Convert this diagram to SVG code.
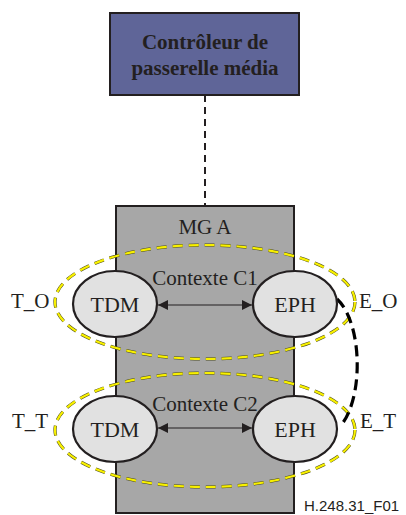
<svg xmlns="http://www.w3.org/2000/svg" width="406" height="515" viewBox="0 0 406 515">
<style>
.serif{font-family:"Liberation Serif","Times New Roman",serif;fill:#231f20}
.lbl{font-size:21px}
.ctx{font-size:21px;text-anchor:middle}
.tn{font-size:22px;text-anchor:middle}
.term{fill:#e1e1e1;stroke:#231f20;stroke-width:2.2}
.ydark{fill:none;stroke:#4a4a20;stroke-width:3.2;stroke-dasharray:10,6}
.yel{fill:none;stroke:#f8f000;stroke-width:2.2;stroke-dasharray:10,6}
.arr{stroke:#231f20;stroke-width:1.2;marker-start:url(#ah);marker-end:url(#ah)}
</style>
<defs>
<marker id="ah" viewBox="0 0 10 10" refX="10" refY="5" markerWidth="10" markerHeight="10" markerUnits="userSpaceOnUse" orient="auto-start-reverse">
<path d="M0,0 L10,5 L0,10 z" fill="#231f20"/>
</marker>
</defs>
<rect width="406" height="515" fill="#ffffff"/>
<g id="connectors">
<line x1="205" y1="95" x2="205" y2="206" stroke="#231f20" stroke-width="2" stroke-dasharray="7,5"/>
</g>
<g id="mgc">
<rect x="110" y="13" width="189" height="82" fill="#5f6598" stroke="#231f20" stroke-width="2"/>
<text class="serif" x="205" y="49" font-size="21" font-weight="bold" text-anchor="middle">Contrôleur de</text>
<text class="serif" x="205" y="75" font-size="21" font-weight="bold" text-anchor="middle">passerelle média</text>
</g>
<g id="mga">
<rect x="116" y="206" width="178" height="307" fill="#a7a7a7" stroke="#231f20" stroke-width="2"/>
<text class="serif" x="205" y="234" font-size="21" text-anchor="middle">MG A</text>
</g>
<g id="context-c1">
<ellipse class="ydark" cx="205" cy="302" rx="150" ry="57"/>
<ellipse class="yel" cx="205" cy="302" rx="150" ry="57"/>
<text class="serif ctx" x="205" y="285">Contexte C1</text>
</g>
<g id="context-c2">
<ellipse class="ydark" cx="205" cy="430" rx="150" ry="57"/>
<ellipse class="yel" cx="205" cy="430" rx="150" ry="57"/>
<text class="serif ctx" x="205" y="411">Contexte C2</text>
</g>
<g id="links">
<line class="arr" x1="158" y1="305" x2="252" y2="305"/>
<line class="arr" x1="158" y1="428" x2="252" y2="428"/>
<path d="M337,299 C362,322 364,395 342,424" fill="none" stroke="#000" stroke-width="3.2" stroke-dasharray="11,6"/>
</g>
<g id="tdm1">
<ellipse class="term" cx="115" cy="304" rx="42" ry="33"/>
<text class="serif tn" x="115" y="312">TDM</text>
</g>
<g id="eph1">
<ellipse class="term" cx="295" cy="304" rx="42" ry="33"/>
<text class="serif tn" x="295" y="312">EPH</text>
</g>
<g id="tdm2">
<ellipse class="term" cx="115" cy="429" rx="42" ry="33"/>
<text class="serif tn" x="115" y="437">TDM</text>
</g>
<g id="eph2">
<ellipse class="term" cx="295" cy="429" rx="42" ry="33"/>
<text class="serif tn" x="295" y="437">EPH</text>
</g>
<g id="labels">
<text class="serif lbl" x="11" y="308">T_O</text>
<text class="serif lbl" x="359" y="308">E_O</text>
<text class="serif lbl" x="12" y="428">T_T</text>
<text class="serif lbl" x="360" y="428">E_T</text>
<text x="304" y="511" font-family="Liberation Sans, Arial, sans-serif" font-size="15" fill="#231f20">H.248.31_F01</text>
</g>
</svg>
